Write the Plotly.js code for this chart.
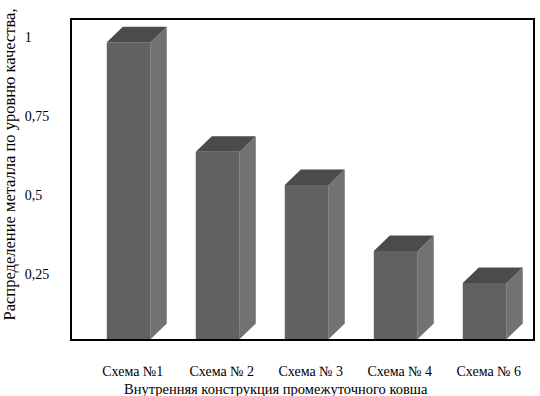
<!DOCTYPE html>
<html>
<head>
<meta charset="utf-8">
<script src="https://cdn.plot.ly/plotly-3.0.1.min.js"></script>
<style>html,body{margin:0;padding:0;background:#fff;}#chart{width:540px;height:396px;}</style>
</head>
<body>
<div id="chart"></div>
<script>
// Data
const categories = ["Схема №1", "Схема № 2", "Схема № 3", "Схема № 4", "Схема № 6"];
const values = [0.983, 0.637, 0.532, 0.324, 0.223];
const yTickVals = [0.25, 0.5, 0.75, 1];
const yTickText = ["0,25", "0,5", "0,75", "1"];
const yTitle = "Распределение металла по уровню качества,";
const xTitle = "Внутренняя конструкция промежуточного ковша";

// Style / geometry
const yMin = 0.046, yMax = 1.053;
const barW = 0.494;
const depthX = 0.18, depthY = 0.049;
const frontColor = "#616161", sideColor = "#727272", topColor = "#4b4b4b";
const font = "Liberation Serif, Times New Roman, serif";

const xs = categories.map((c, i) => i);
// pad short labels so they look left-aligned
const padTo = s => {
  const w = ch => (ch === "," ? 1 : 2);
  const target = 7; // "0,75" = 2+1+2+2
  let cur = s.split("").reduce((a, ch) => a + w(ch), 0);
  let out = s;
  while (cur < target) { out += "\u00a0"; cur += 1; }
  return out;
};

const traces = [];
traces.push({
  type: "bar", x: xs, y: values, width: barW,
  marker: {color: frontColor, line: {width: 0}},
  hoverinfo: "skip", showlegend: false
});
xs.forEach((x, i) => {
  const v = values[i];
  const r = x + barW / 2, l = x - barW / 2;
  traces.push({
    type: "scatter", mode: "lines", fill: "toself", fillcolor: sideColor,
    line: {width: 0, color: sideColor},
    x: [r, r + depthX, r + depthX, r, r],
    y: [yMin, yMin + depthY, v + depthY, v, yMin],
    hoverinfo: "skip", showlegend: false
  });
  traces.push({
    type: "scatter", mode: "lines", fill: "toself", fillcolor: topColor,
    line: {width: 0, color: topColor},
    x: [l, l + depthX, r + depthX, r, l],
    y: [v, v + depthY, v + depthY, v, v],
    hoverinfo: "skip", showlegend: false
  });
});

const layout = {
  width: 540, height: 396,
  margin: {l: 72, r: 7, t: 20, b: 57},
  paper_bgcolor: "#fff", plot_bgcolor: "#fff",
  font: {family: font, size: 14, color: "#000"},
  showlegend: false,
  xaxis: {
    range: [-0.638, 4.542], tickvals: xs, ticktext: categories,
    showgrid: false, zeroline: false, ticks: "",
    showline: true, mirror: true, linecolor: "#000", linewidth: 2,
    ticklabelstandoff: 18, ticklabelshift: 4,
    tickfont: {family: font, size: 14, color: "#000"}
  },
  yaxis: {
    range: [yMin, yMax], tickvals: yTickVals, ticktext: yTickText.map(padTo),
    showgrid: false, zeroline: false, ticks: "",
    showline: true, mirror: true, linecolor: "#000", linewidth: 2,
    ticklabelstandoff: 18,
    tickfont: {family: font, size: 14, color: "#000"}
  },
  annotations: [
    {text: yTitle, xref: "paper", yref: "paper", x: -0.1335, y: 0.5486,
     xanchor: "center", yanchor: "middle", textangle: -90, showarrow: false,
     font: {family: font, size: 16.5, color: "#000"}},
    {text: xTitle, xref: "paper", yref: "paper", x: 0.4425, y: -0.1567,
     xanchor: "center", yanchor: "middle", showarrow: false,
     font: {family: font, size: 14.5, color: "#000"}}
  ]
};

Plotly.newPlot("chart", traces, layout, {displayModeBar: false, staticPlot: true});
</script>
</body>
</html>
